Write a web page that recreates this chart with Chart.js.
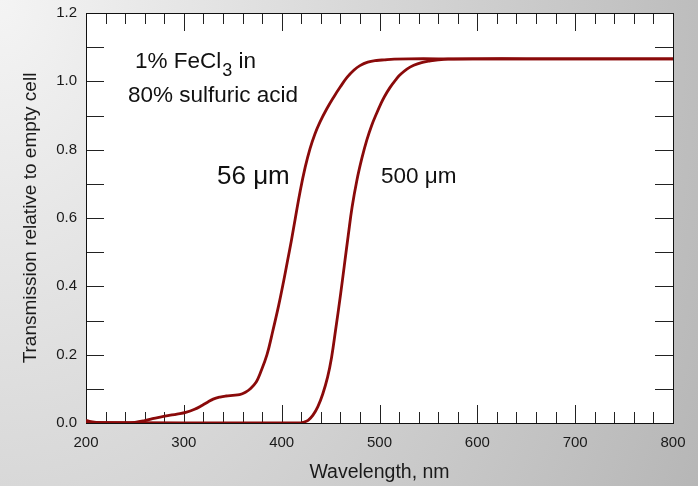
<!DOCTYPE html>
<html>
<head>
<meta charset="utf-8">
<title>FeCl3 transmission</title>
<script src="https://cdn.jsdelivr.net/npm/chart.js@4.4.0/dist/chart.umd.min.js"></script>
<style>
  html, body { margin: 0; padding: 0; }
  body {
    width: 698px;
    height: 486px;
    overflow: hidden;
    background: radial-gradient(ellipse 862px 1185px at 0 0, #f4f4f4 0%, #b0b0b0 100%);
  }
  #wrap { position: relative; width: 698px; height: 486px; }
</style>
</head>
<body>
<div id="wrap"><canvas id="spectrum" width="698" height="486"></canvas></div>
<script>
// 56 um cell
const wl56 = [200, 205, 212, 220, 235, 250, 260, 268, 277, 285, 293, 302, 311, 319, 325, 330, 337, 343,
  350, 357, 363, 368, 374, 378, 385, 391, 397, 402, 406, 410, 414, 419, 424, 429, 434, 439, 446, 453,
  460, 467, 474, 480, 488, 497, 505, 515, 530, 560, 600, 650, 700, 750, 800];
const t56 = [0.008, 0.004, 0.001, 0, 0, 0.002, 0.007, 0.013, 0.018, 0.022, 0.026, 0.031, 0.040, 0.052,
  0.062, 0.070, 0.076, 0.079, 0.081, 0.083, 0.090, 0.100, 0.120, 0.145, 0.200, 0.270, 0.345, 0.415,
  0.475, 0.535, 0.600, 0.680, 0.748, 0.803, 0.846, 0.880, 0.919, 0.953, 0.984, 1.012, 1.033, 1.046,
  1.056, 1.061, 1.063, 1.065, 1.066, 1.066, 1.066, 1.066, 1.066, 1.066, 1.066];

// 500 um cell
const wl500 = [200, 300, 410, 418, 422, 427, 432, 437, 442, 447, 451, 455, 460, 464, 468, 472, 477, 482,
  487, 492, 497, 501, 505, 511, 517, 521, 528, 535, 543, 552, 560, 570, 600, 650, 700, 750, 800];
const t500 = [0.002, 0, 0, 0, 0.002, 0.008, 0.023, 0.048, 0.085, 0.135, 0.192, 0.270, 0.372, 0.460,
  0.548, 0.632, 0.712, 0.775, 0.828, 0.871, 0.906, 0.932, 0.955, 0.983, 1.006, 1.019, 1.036, 1.047,
  1.055, 1.060, 1.063, 1.065, 1.066, 1.066, 1.066, 1.066, 1.066];

const xTickLabels = [200, 300, 400, 500, 600, 700, 800];
const yTickLabels = ['0.0', '0.2', '0.4', '0.6', '0.8', '1.0', '1.2'];

const curveColor = '#8a0a0a';
const inkColor = '#1a1a1a';
const fam = '"Liberation Sans", Arial, sans-serif';

Chart.defaults.font.family = fam;

function toPoints(xs, ys) {
  return xs.map((x, i) => ({ x: x, y: ys[i] }));
}

// white plot area, box and inward ticks on all four sides
const frame = {
  id: 'frame',
  beforeDatasetsDraw(chart) {
    const { ctx, chartArea: a, scales: { x, y } } = chart;
    ctx.save();
    ctx.fillStyle = '#fff';
    ctx.fillRect(a.left, a.top, a.right - a.left, a.bottom - a.top);
    ctx.strokeStyle = '#222';
    ctx.lineWidth = 1;
    ctx.beginPath();
    for (let v = 220; v < 800; v += 20) {
      const px = Math.round(x.getPixelForValue(v)) + 0.5;
      const len = v % 100 === 0 ? 18 : 11;
      ctx.moveTo(px, a.bottom); ctx.lineTo(px, a.bottom - len);
      ctx.moveTo(px, a.top); ctx.lineTo(px, a.top + len);
    }
    for (let i = 1; i < 12; i++) {
      const py = Math.round(y.getPixelForValue(i / 10)) + 0.5;
      ctx.moveTo(a.left, py); ctx.lineTo(a.left + 18, py);
      ctx.moveTo(a.right, py); ctx.lineTo(a.right - 18, py);
    }
    ctx.stroke();
    ctx.strokeStyle = '#111';
    ctx.strokeRect(Math.round(a.left) + 0.5, Math.round(a.top) + 0.5,
      Math.round(a.right - a.left), Math.round(a.bottom - a.top));
    ctx.restore();
  }
};

// text labels inside the plot
const notes = {
  id: 'notes',
  afterDatasetsDraw(chart) {
    const { ctx } = chart;
    ctx.save();
    ctx.fillStyle = '#111';
    ctx.textBaseline = 'alphabetic';
    ctx.textAlign = 'left';

    ctx.font = '22.5px ' + fam;
    let x0 = 135;
    ctx.fillText('1% FeCl', x0, 68);
    x0 += ctx.measureText('1% FeCl').width;
    ctx.font = '18px ' + fam;
    ctx.fillText('3', x0 + 1, 76);
    x0 += ctx.measureText('3').width + 1;
    ctx.font = '22.5px ' + fam;
    ctx.fillText(' in', x0, 68);
    ctx.fillText('80% sulfuric acid', 128, 102);

    ctx.font = '26px ' + fam;
    ctx.fillText('56 \u03bcm', 217, 184);
    ctx.font = '22.5px ' + fam;
    ctx.fillText('500 \u03bcm', 381, 183);
    ctx.restore();
  }
};

new Chart(document.getElementById('spectrum'), {
  type: 'line',
  data: {
    datasets: [
      {
        label: '56 \u03bcm',
        data: toPoints(wl56, t56),
        borderColor: curveColor,
        borderWidth: 2.8,
        pointRadius: 0,
        tension: 0.4
      },
      {
        label: '500 \u03bcm',
        data: toPoints(wl500, t500),
        borderColor: curveColor,
        borderWidth: 2.8,
        pointRadius: 0,
        tension: 0.4
      }
    ]
  },
  options: {
    responsive: false,
    animation: false,
    layout: { padding: { top: 13, right: 25, bottom: 0, left: 0 } },
    plugins: {
      legend: { display: false },
      tooltip: { enabled: false }
    },
    scales: {
      x: {
        type: 'linear',
        min: 200,
        max: 800,
        afterBuildTicks: s => { s.ticks = xTickLabels.map(v => ({ value: v })); },
        ticks: { color: inkColor, font: { size: 15 }, padding: 11, maxRotation: 0 },
        grid: { display: false, drawTicks: false },
        border: { display: false },
        title: {
          display: true,
          text: 'Wavelength, nm',
          color: inkColor,
          font: { size: 19.5 },
          padding: { top: 0, bottom: 2 }
        },
        afterFit: s => { s.height = 63; s.paddingLeft = 0; s.paddingRight = 0; }
      },
      y: {
        type: 'linear',
        min: 0,
        max: 1.2,
        afterBuildTicks: s => { s.ticks = yTickLabels.map(v => ({ value: parseFloat(v) })); },
        ticks: {
          color: inkColor,
          font: { size: 15 },
          padding: 9,
          callback: (v, i) => yTickLabels[i]
        },
        grid: { display: false, drawTicks: false },
        border: { display: false },
        title: {
          display: true,
          text: 'Transmission relative to empty cell',
          color: inkColor,
          font: { size: 19 },
          padding: { top: 19, bottom: 0 }
        },
        afterFit: s => { s.width = 86; s.paddingTop = 0; s.paddingBottom = 0; }
      }
    }
  },
  plugins: [frame, notes]
});
</script>
</body>
</html>
